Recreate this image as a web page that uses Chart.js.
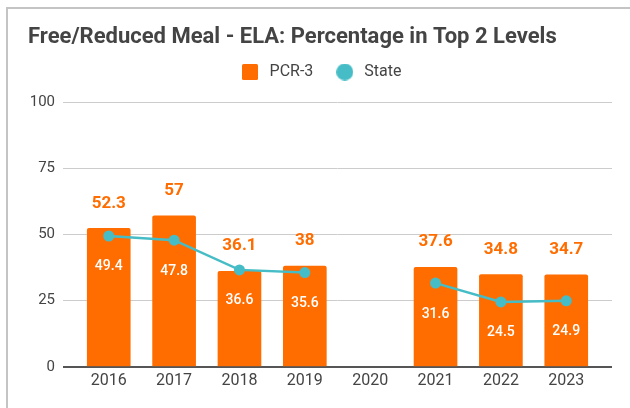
<!DOCTYPE html>
<html>
<head>
<meta charset="utf-8">
<script src="https://cdn.jsdelivr.net/npm/chart.js@4"></script>
<style>
  html, body { margin: 0; padding: 0; background: #fff; }
  #wrap { position: relative; width: 630px; height: 408px; overflow: hidden; }
  #chart { position: absolute; left: 0; top: 0; }
  #frame {
    position: absolute; left: 6px; top: 7px; right: -4px; bottom: -4px;
    border-top: 2px solid #c4c4c4; border-left: 2px solid #c4c4c4;
    pointer-events: none;
  }
</style>
</head>
<body>
<div id="wrap">
  <canvas id="chart" width="630" height="408"></canvas>
  <div id="frame"></div>
</div>
<script>
// School years shown along the bottom
const years = ['2016', '2017', '2018', '2019', '2020', '2021', '2022', '2023'];
// Percentage of free/reduced meal students in the top 2 ELA levels (2020: no testing)
const pcr3 = [52.3, 57, 36.1, 38, null, 37.6, 34.8, 34.7];
const state = [49.4, 47.8, 36.6, 35.6, null, 31.6, 24.5, 24.9];
// Value axis ticks
const yTicks = [0, 25, 50, 75, 100];

const ORANGE = '#ff6d01';
const TEAL = '#46bdc6';
const TEXT = '#444444';
const FONT = 'Roboto, "Noto Sans", sans-serif';

const barPoints = years.map((_, i) => ({ x: i, y: pcr3[i] })).filter(p => p.y !== null);
const linePoints = years.map((_, i) => ({ x: i, y: state[i] }));

// Legend swatches: a filled square for the bars, a filled dot for the line
function swatch(kind, size, color) {
  const c = document.createElement('canvas');
  c.width = size; c.height = size;
  const g = c.getContext('2d');
  g.fillStyle = color;
  if (kind === 'square') {
    g.beginPath();
    g.roundRect(0, 0, size, size, 1.5);
    g.fill();
  } else {
    g.beginPath();
    g.arc(size / 2, size / 2, size / 2, 0, Math.PI * 2);
    g.fill();
  }
  return c;
}
const squareSwatch = swatch('square', 16, ORANGE);
const dotSwatch = swatch('dot', 17, TEAL);

// Value labels: bold orange above each bar, white under each state point
const valueLabels = {
  id: 'valueLabels',
  afterDatasetsDraw(chart) {
    const ctx = chart.ctx;
    ctx.save();
    ctx.textAlign = 'center';
    ctx.textBaseline = 'middle';
    const barMeta = chart.getDatasetMeta(0);
    ctx.font = 'bold 17px ' + FONT;
    ctx.fillStyle = ORANGE;
    barMeta.data.forEach((el, j) => {
      const v = chart.data.datasets[0].data[j].y;
      ctx.fillText(String(v), el.x, el.y - 25);
    });
    const lineMeta = chart.getDatasetMeta(1);
    ctx.font = '500 14px ' + FONT;
    ctx.fillStyle = '#ffffff';
    lineMeta.data.forEach((el, j) => {
      const v = chart.data.datasets[1].data[j].y;
      if (v === null || v === undefined) return;
      ctx.fillText(String(v), el.x, el.y + 31);
    });
    ctx.restore();
  }
};

// Pull the legend row up closer to the title
const legendPlace = {
  id: 'legendPlace',
  afterLayout(chart) {
    const lg = chart.legend;
    if (!lg) return;
    const pad = lg.options.labels.padding;
    const h = lg.bottom - lg.top;
    lg.top = 72 - pad - 8;
    lg.bottom = lg.top + h;
  }
};

new Chart(document.getElementById('chart'), {
  data: {
    datasets: [
      {
        type: 'bar',
        label: 'PCR-3',
        data: barPoints,
        backgroundColor: ORANGE,
        borderRadius: 2,
        borderSkipped: 'bottom',
        barThickness: 43,
        order: 1
      },
      {
        type: 'line',
        label: 'State',
        data: linePoints,
        borderColor: TEAL,
        backgroundColor: TEAL,
        borderWidth: 2.5,
        pointRadius: 5.5,
        pointBackgroundColor: TEAL,
        pointBorderColor: TEAL,
        pointBorderWidth: 0,
        spanGaps: false,
        tension: 0,
        order: 0
      }
    ]
  },
  options: {
    responsive: false,
    animation: false,
    layout: { padding: { left: 28, right: 18, top: 0, bottom: 12 } },
    plugins: {
      tooltip: { enabled: false },
      title: {
        display: true,
        text: 'Free/Reduced Meal - ELA: Percentage in Top 2 Levels',
        align: 'start',
        color: TEXT,
        font: { family: FONT, size: 22, weight: 'bold', lineHeight: 1.2 },
        padding: { top: 24, bottom: 5.6 }
      },
      legend: {
        display: true,
        position: 'top',
        align: 'center',
        labels: {
          usePointStyle: true,
          pointStyleWidth: 23,
          boxHeight: 16,
          padding: 20,
          color: TEXT,
          font: { family: FONT, size: 16 },
          sort: (a, b) => a.datasetIndex - b.datasetIndex,
          generateLabels(chart) {
            const base = Chart.defaults.plugins.legend.labels.generateLabels(chart);
            return base.map(l => Object.assign(l, {
              pointStyle: l.datasetIndex === 0 ? squareSwatch : dotSwatch,
              lineWidth: 0,
              strokeStyle: 'rgba(0,0,0,0)'
            }));
          }
        }
      }
    },
    scales: {
      x: {
        type: 'linear',
        offset: false,
        min: -0.7,
        max: 7.7,
        afterBuildTicks(scale) {
          scale.ticks = years.map((_, i) => ({ value: i }));
        },
        ticks: {
          color: TEXT,
          font: { family: FONT, size: 16 },
          padding: 5,
          autoSkip: false,
          maxRotation: 0,
          callback: (v) => years[v]
        },
        grid: { display: false, drawTicks: false },
        border: { display: false }
      },
      y: {
        type: 'linear',
        min: 0,
        max: 100,
        afterBuildTicks(scale) {
          scale.ticks = yTicks.map(v => ({ value: v }));
        },
        afterFit(scale) { scale.width = 35; },
        ticks: {
          color: TEXT,
          font: { family: FONT, size: 15 },
          padding: 8
        },
        grid: {
          drawTicks: false,
          color: (c) => (c.tick && c.tick.value === 0 ? '#555555' : '#cccccc'),
          lineWidth: (c) => (c.tick && c.tick.value === 0 ? 2 : 1)
        },
        border: { display: false }
      }
    }
  },
  plugins: [valueLabels, legendPlace]
});
</script>
</body>
</html>
